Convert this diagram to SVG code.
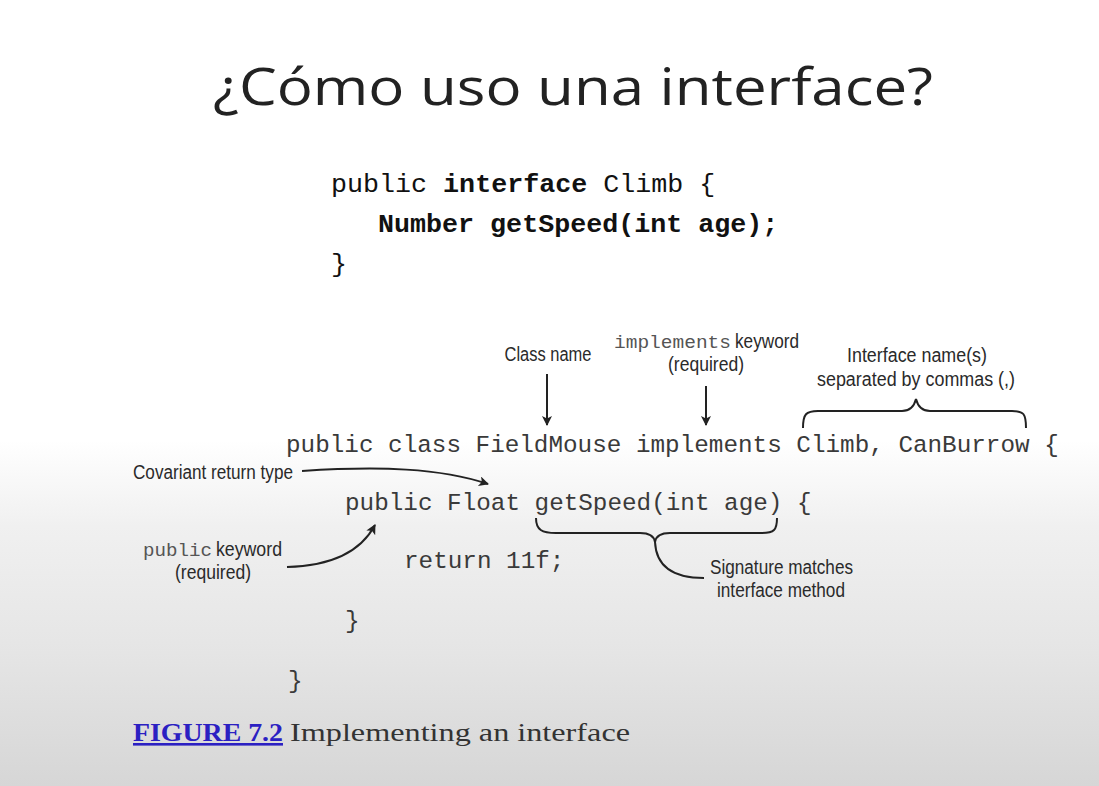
<svg xmlns="http://www.w3.org/2000/svg" width="1099" height="786" viewBox="0 0 1099 786">
  <defs>
    <linearGradient id="bg" x1="0" y1="0" x2="0" y2="1">
      <stop offset="0" stop-color="#ffffff"/>
      <stop offset="0.56" stop-color="#ffffff"/>
      <stop offset="0.67" stop-color="#f0f0f0"/>
      <stop offset="0.83" stop-color="#e5e5e5"/>
      <stop offset="1" stop-color="#d6d6d6"/>
    </linearGradient>
    <marker id="arrow" viewBox="0 0 10 10" refX="9" refY="5" markerWidth="12" markerHeight="10" markerUnits="userSpaceOnUse" orient="auto">
      <path d="M0,0 L10,5 L0,10 L2.5,5 Z" fill="#222"/>
    </marker>
    <style>
      .title { font-family: "Open Sans", "Liberation Sans", sans-serif; font-size: 52px; fill: #222; }
      .code1 { font-family: "Liberation Mono", "DejaVu Sans Mono", monospace; font-size: 26.7px; fill: #111; }
      .b { font-weight: bold; }
      .code2 { font-family: "Liberation Mono", "DejaVu Sans Mono", monospace; font-size: 24.3px; fill: #3a3a3a; }
      .lbl { font-family: "Liberation Sans", Arial, sans-serif; font-size: 19.5px; fill: #2a2a2a; }
      .lblm { font-family: "Liberation Mono", monospace; font-size: 18px; fill: #555; }
      .line { fill: none; stroke: #222; stroke-width: 2; }
      .cap { font-family: "Liberation Serif", "DejaVu Serif", serif; font-size: 26px; fill: #333; }
      .fig { font-weight: bold; fill: #2b20c2; text-decoration: underline; }
    </style>
  </defs>

  <rect width="1099" height="786" fill="url(#bg)"/>

  <text class="title" x="573" y="105" text-anchor="middle" textLength="720" lengthAdjust="spacingAndGlyphs">¿Cómo uso una interface?</text>

  <!-- interface declaration -->
  <g id="interface-code">
    <text class="code1" x="331" y="192">public <tspan class="b">interface</tspan> Climb {</text>
    <text class="code1 b" x="378" y="232">Number getSpeed(int age);</text>
    <text class="code1" x="331" y="272">}</text>
  </g>

  <!-- implementing class -->
  <g id="class-code">
    <text class="code2" x="286" y="452">public class FieldMouse implements Climb, CanBurrow {</text>
    <text class="code2" x="345" y="510">public Float getSpeed(int age) {</text>
    <text class="code2" x="404" y="568">return 11f;</text>
    <text class="code2" x="345" y="628">}</text>
    <text class="code2" x="288" y="688">}</text>
  </g>

  <!-- annotations -->
  <g id="class-name-label">
    <text class="lbl" x="548" y="361" text-anchor="middle" textLength="87" lengthAdjust="spacingAndGlyphs">Class name</text>
  </g>
  <g id="implements-label">
    <text x="614" y="348"><tspan class="lblm" textLength="117" lengthAdjust="spacingAndGlyphs">implements</tspan><tspan class="lbl" dx="4" textLength="64" lengthAdjust="spacingAndGlyphs">keyword</tspan></text>
    <text class="lbl" x="706" y="371" text-anchor="middle" textLength="76" lengthAdjust="spacingAndGlyphs">(required)</text>
  </g>
  <g id="interface-names-label">
    <text class="lbl" x="917" y="362" text-anchor="middle" textLength="140" lengthAdjust="spacingAndGlyphs">Interface name(s)</text>
    <text class="lbl" x="916" y="386" text-anchor="middle" textLength="198" lengthAdjust="spacingAndGlyphs">separated by commas (,)</text>
  </g>
  <g id="covariant-label">
    <text class="lbl" x="133" y="479" textLength="160" lengthAdjust="spacingAndGlyphs">Covariant return type</text>
  </g>
  <g id="public-label">
    <text x="143" y="556"><tspan class="lblm" textLength="69" lengthAdjust="spacingAndGlyphs">public</tspan><tspan class="lbl" dx="4" textLength="66" lengthAdjust="spacingAndGlyphs">keyword</tspan></text>
    <text class="lbl" x="213" y="579" text-anchor="middle" textLength="76" lengthAdjust="spacingAndGlyphs">(required)</text>
  </g>
  <g id="signature-label">
    <text class="lbl" x="710" y="574" textLength="143" lengthAdjust="spacingAndGlyphs">Signature matches</text>
    <text class="lbl" x="781" y="597" text-anchor="middle" textLength="128" lengthAdjust="spacingAndGlyphs">interface method</text>
  </g>

  <!-- connectors -->
  <g id="connectors">
    <line class="line" x1="547" y1="374" x2="547" y2="425" marker-end="url(#arrow)"/>
    <line class="line" x1="706" y1="386" x2="706" y2="425" marker-end="url(#arrow)"/>
    <path class="line" d="M803,428 C803,414 806,411 818,411 L902,411 C910,411 914,407 916,399 C918,407 922,411 930,411 L1012,411 C1024,411 1026,414 1026,428"/>
    <path class="line" d="M302,471 C380,466 440,468 488,484" marker-end="url(#arrow)"/>
    <path class="line" d="M287,567 C330,566 360,553 375,525" marker-end="url(#arrow)"/>
    <path class="line" d="M536,518 C536,530 542,533 556,533 L640,533 C650,533 654,536 655,542 C656,536 660,533 670,533 L762,533 C774,533 777,530 777,518"/>
    <path class="line" d="M655,542 C656,564 670,578 704,578"/>
  </g>

  <!-- caption -->
  <g id="caption">
    <text class="cap" x="133" y="741"><tspan class="fig" textLength="150" lengthAdjust="spacingAndGlyphs">FIGURE 7.2</tspan><tspan dx="7" textLength="340" lengthAdjust="spacingAndGlyphs">Implementing an interface</tspan></text>
  </g>
</svg>
